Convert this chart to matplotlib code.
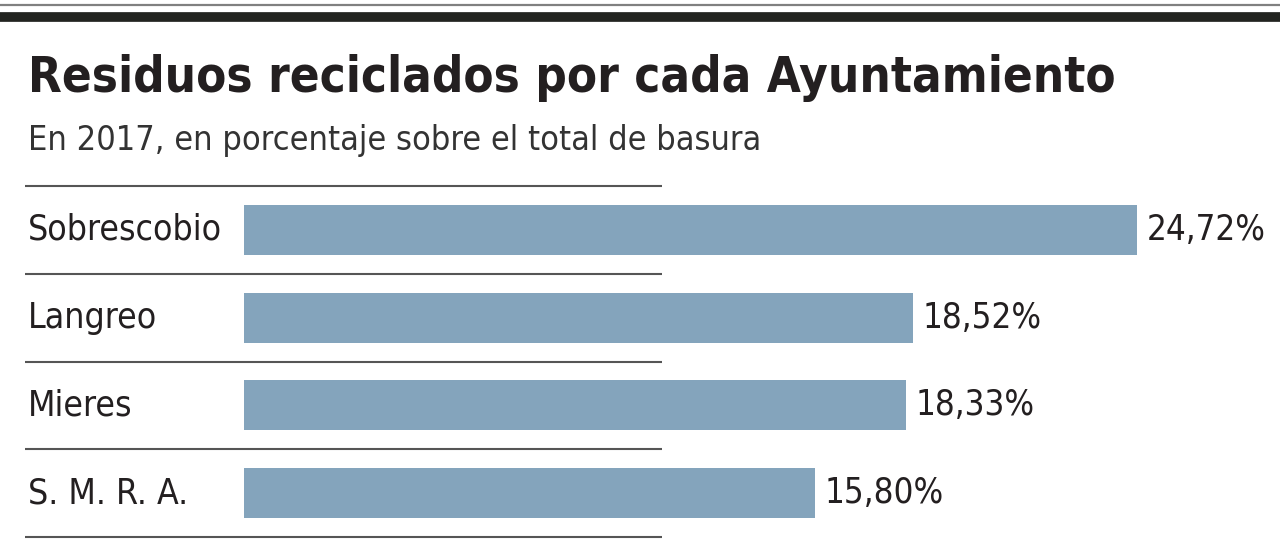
import matplotlib
matplotlib.use("Agg")
import matplotlib.pyplot as plt
from matplotlib.transforms import blended_transform_factory

# data
municipios = ["Sobrescobio", "Langreo", "Mieres", "S. M. R. A."]
porcentajes = [24.72, 18.52, 18.33, 15.80]
etiquetas = ["24,72%", "18,52%", "18,33%", "15,80%"]

titulo = "Residuos reciclados por cada Ayuntamiento"
subtitulo = "En 2017, en porcentaje sobre el total de basura"

bar_color = "#84a4bc"
text_color = "#231f20"

plt.rcParams["font.family"] = "DejaVu Sans"
plt.rcParams["font.stretch"] = "condensed"

W, H = 1280, 548
fig = plt.figure(figsize=(W / 100, H / 100), dpi=100)
fig.patch.set_facecolor("white")

# top rules
fig.add_artist(plt.Line2D([0, 1], [1 - 5 / H] * 2, color="#808080", lw=1.6))
fig.add_artist(plt.Line2D([0, 1], [1 - 16.5 / H] * 2, color="#222420", lw=7))

fig.text(28 / W, 1 - 92 / H, titulo, fontsize=35.3, fontweight="bold",
         color=text_color, va="baseline")
fig.text(28 / W, 1 - 150 / H, subtitulo, fontsize=24.6,
         color="#333333", va="baseline")

# axes: bars start at x=244px, 36.12 px per percentage point
left, right = 244, 1280
top, bottom = 186, 537
ax = fig.add_axes([left / W, 1 - bottom / H, (right - left) / W, (bottom - top) / H])
ax.set_xlim(0, (right - left) / 36.12)
ax.set_ylim(len(municipios) - 0.5, -0.5)
ax.axis("off")

ys = list(range(len(municipios)))
ax.barh(ys, porcentajes, height=0.57, color=bar_color)

# thin separators between rows, drawn only under the labels part
trans = blended_transform_factory(fig.transFigure, ax.transData)
for i in range(len(municipios) + 1):
    ax.plot([25 / W, 662 / W], [i - 0.5, i - 0.5], transform=trans,
            color="#555555", lw=1.5, clip_on=False, solid_capstyle="butt")

for y, name in zip(ys, municipios):
    ax.text(28 / W, y, name, transform=trans, ha="left", va="center",
            fontsize=25.5, color=text_color)

for y, v, lab in zip(ys, porcentajes, etiquetas):
    ax.annotate(lab, (v, y), xytext=(7, 0), textcoords="offset points",
                ha="left", va="center", fontsize=25,
                color=text_color, annotation_clip=False)

fig.savefig("out.png", dpi=100)
